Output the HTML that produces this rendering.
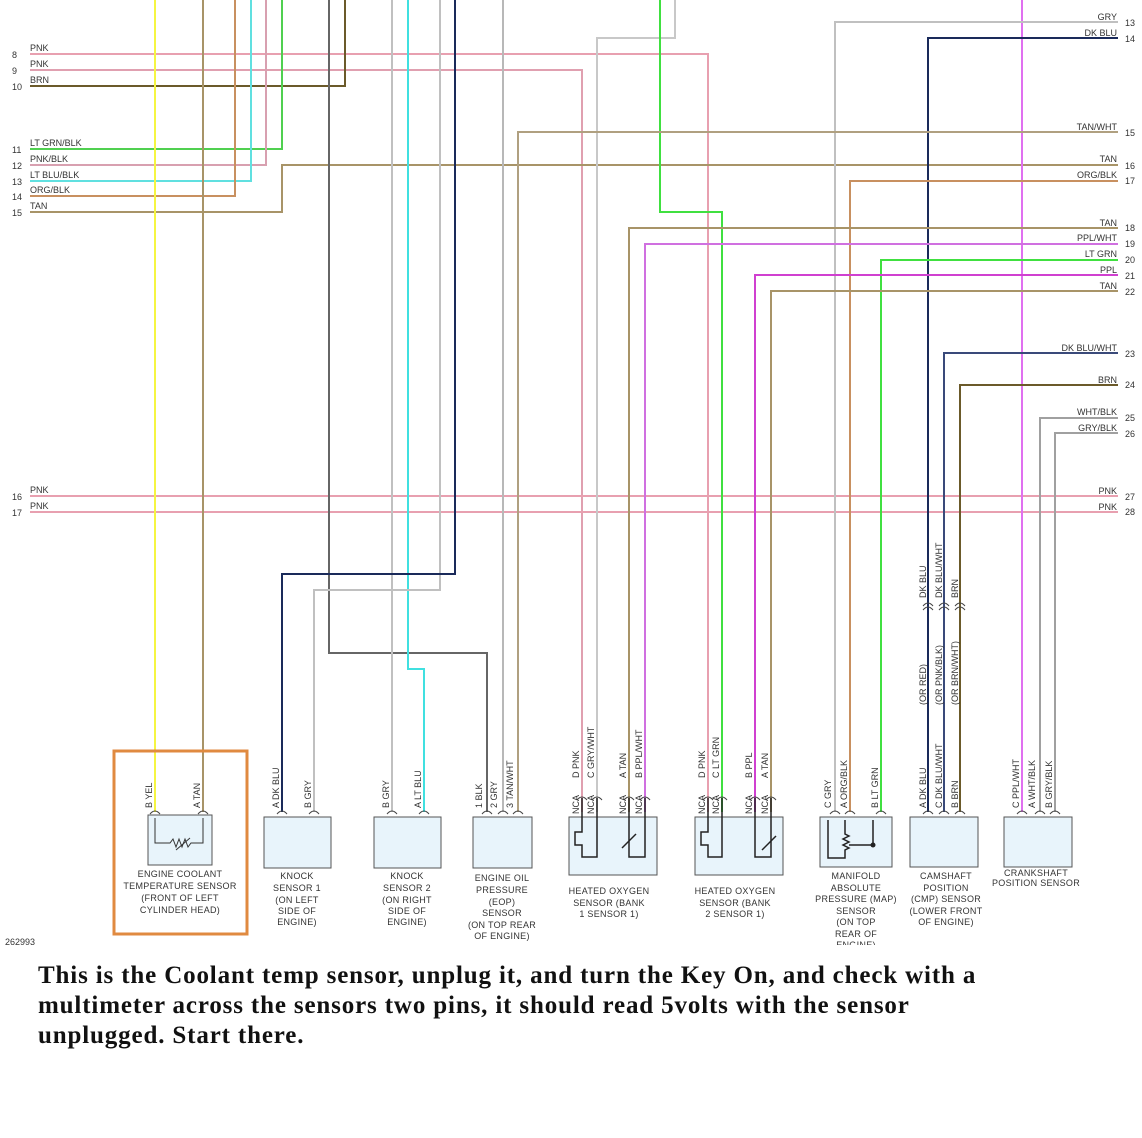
<!DOCTYPE html>
<html><head><meta charset="utf-8"><style>
body{margin:0;background:#fff;width:1142px;height:1138px;overflow:hidden}
svg{position:absolute;left:0;top:0}
.t{font-family:"Liberation Sans",sans-serif;font-size:9px;fill:#333;white-space:pre}
.c{font-family:"Liberation Sans",sans-serif;font-size:9px;fill:#333;text-anchor:middle;letter-spacing:.3px}
.r{text-anchor:end}
.w{fill:none;stroke-width:2}
.bx{fill:#e8f4fb;stroke:#555;stroke-width:1}
p.msg{position:absolute;left:38px;top:961px;margin:0;width:990px;font-family:"Liberation Serif",serif;font-weight:bold;font-size:25px;letter-spacing:0.85px;line-height:30px;color:#111}
</style></head><body>
<svg width="1142" height="945" viewBox="0 0 1142 945">
<g class="w">
<path d="M30 54H708V812" stroke="#e8a0b0"/>
<path d="M30 70H582V812" stroke="#e0a0b0"/>
<path d="M30 86H345V0" stroke="#6b5a2a"/>
<path d="M30 149H282V0" stroke="#50d050"/>
<path d="M30 165H266V0" stroke="#d8a0b0"/>
<path d="M30 181H251V0" stroke="#60e0e0"/>
<path d="M30 196H235V0" stroke="#c89060"/>
<path d="M30 212H282V165H1118" stroke="#a89468"/>
<path d="M30 496H1118" stroke="#e8a0b0"/>
<path d="M30 512H1118" stroke="#e8a0b0"/>
<path d="M155 0V812" stroke="#f5f542"/>
<path d="M203 0V812" stroke="#a89468"/>
<path d="M329 0V653H487V812" stroke="#666"/>
<path d="M392 0V812" stroke="#c0c0c0"/>
<path d="M408 0V669H424V812" stroke="#40e0e0"/>
<path d="M440 0V590H314V812" stroke="#c0c0c0"/>
<path d="M455 0V574H282V812" stroke="#1a2a5a"/>
<path d="M503 0V812" stroke="#b8b8b8"/>
<path d="M675 0V38H597V812" stroke="#c8c8c8"/>
<path d="M660 0V212H722V812" stroke="#40e040"/>
<path d="M1022 0V812" stroke="#e070f0"/>
<path d="M1118 22H835V812" stroke="#c0c0c0"/>
<path d="M1118 38H928V812" stroke="#1a2a5a"/>
<path d="M1118 132H518V812" stroke="#b0a080"/>
<path d="M1118 181H850V812" stroke="#c89060"/>
<path d="M1118 228H629V812" stroke="#a89468"/>
<path d="M1118 244H645V812" stroke="#d070e0"/>
<path d="M1118 260H881V812" stroke="#40e040"/>
<path d="M1118 275H755V812" stroke="#d040d0"/>
<path d="M1118 291H771V812" stroke="#a89468"/>
<path d="M1118 353H944V812" stroke="#3a4a7a"/>
<path d="M1118 385H960V812" stroke="#6b5a2a"/>
<path d="M1118 418H1040V812" stroke="#a0a0a0"/>
<path d="M1118 433H1055V812" stroke="#a0a0a0"/>
</g>
<g class="t">
<text x="12" y="58">8</text><text x="12" y="74">9</text><text x="12" y="90">10</text>
<text x="12" y="153">11</text><text x="12" y="169">12</text><text x="12" y="185">13</text><text x="12" y="200">14</text><text x="12" y="216">15</text>
<text x="12" y="500">16</text><text x="12" y="516">17</text>
<text x="30" y="51">PNK</text><text x="30" y="67">PNK</text><text x="30" y="83">BRN</text>
<text x="30" y="146">LT GRN/BLK</text><text x="30" y="162">PNK/BLK</text><text x="30" y="178">LT BLU/BLK</text><text x="30" y="193">ORG/BLK</text><text x="30" y="209">TAN</text>
<text x="30" y="493">PNK</text><text x="30" y="509">PNK</text>
</g>
<g class="t r">
<text x="1117" y="20">GRY</text><text x="1117" y="36">DK BLU</text><text x="1117" y="130">TAN/WHT</text><text x="1117" y="162">TAN</text><text x="1117" y="178">ORG/BLK</text>
<text x="1117" y="226">TAN</text><text x="1117" y="241">PPL/WHT</text><text x="1117" y="257">LT GRN</text><text x="1117" y="273">PPL</text><text x="1117" y="289">TAN</text>
<text x="1117" y="351">DK BLU/WHT</text><text x="1117" y="383">BRN</text><text x="1117" y="415">WHT/BLK</text><text x="1117" y="431">GRY/BLK</text>
<text x="1117" y="494">PNK</text><text x="1117" y="510">PNK</text>
</g>
<g class="t">
<text x="1125" y="26">13</text><text x="1125" y="42">14</text><text x="1125" y="136">15</text><text x="1125" y="169">16</text><text x="1125" y="184">17</text>
<text x="1125" y="231">18</text><text x="1125" y="247">19</text><text x="1125" y="263">20</text><text x="1125" y="279">21</text><text x="1125" y="295">22</text>
<text x="1125" y="357">23</text><text x="1125" y="388">24</text><text x="1125" y="421">25</text><text x="1125" y="437">26</text>
<text x="1125" y="500">27</text><text x="1125" y="515">28</text>
</g>
<g fill="none" stroke="#444" stroke-width="1">
<path d="M923 610q5-6 10 0M923 606q5-6 10 0M939 610q5-6 10 0M939 606q5-6 10 0M955 610q5-6 10 0M955 606q5-6 10 0"/>
</g>
<g class="t">
<text transform="translate(926,598) rotate(-90)">DK BLU</text>
<text transform="translate(942,598) rotate(-90)">DK BLU/WHT</text>
<text transform="translate(958,598) rotate(-90)">BRN</text>
<text transform="translate(926,705) rotate(-90)">(OR RED)</text>
<text transform="translate(942,705) rotate(-90)">(OR PNK/BLK)</text>
<text transform="translate(958,705) rotate(-90)">(OR BRN/WHT)</text>
</g>
<rect x="114" y="751" width="133" height="183" fill="none" stroke="#e08a40" stroke-width="3"/>
<rect class="bx" x="148" y="815" width="64" height="50"/>
<path d="M155 818V843H170l3-4 3 8 3-8 3 8 3-8 3 8 3-4H203V818" fill="none" stroke="#333"/>
<path d="M176 850l14-12" stroke="#333"/>
<rect class="bx" x="264" y="817" width="67" height="51"/>
<rect class="bx" x="374" y="817" width="67" height="51"/>
<rect class="bx" x="473" y="817" width="59" height="51"/>
<rect class="bx" x="569" y="817" width="88" height="58"/>
<rect class="bx" x="695" y="817" width="88" height="58"/>
<rect class="bx" x="820" y="817" width="72" height="50"/>
<rect class="bx" x="910" y="817" width="68" height="50"/>
<rect class="bx" x="1004" y="817" width="68" height="50"/>
<g fill="none" stroke="#222" stroke-width="1.5">
<path d="M582 798V832H575V845H582V857H597V798"/><path d="M629 798V857H645V798"/><path d="M622 848l14-14"/>
<path d="M708 798V832H701V845H708V857H722V798"/><path d="M755 798V857H771V798"/><path d="M762 850l14-14"/>
<path d="M828 820V858H845V850l4-2-6-3 6-3-6-3 6-3-4-2V820"/><path d="M849 845H873V820"/>
</g>
<circle cx="873" cy="845" r="2.5" fill="#222"/>
<g fill="none" stroke="#444" stroke-width="1">
<path d="M150 814q5-6 10 0M198 814q5-6 10 0M277 814q5-6 10 0M309 814q5-6 10 0M387 814q5-6 10 0M419 814q5-6 10 0M482 814q5-6 10 0M498 814q5-6 10 0M513 814q5-6 10 0
M577 800q5-6 10 0M592 800q5-6 10 0M624 800q5-6 10 0M640 800q5-6 10 0M703 800q5-6 10 0M717 800q5-6 10 0M750 800q5-6 10 0M766 800q5-6 10 0
M830 814q5-6 10 0M845 814q5-6 10 0M876 814q5-6 10 0M923 814q5-6 10 0M939 814q5-6 10 0M955 814q5-6 10 0M1017 814q5-6 10 0M1035 814q5-6 10 0M1050 814q5-6 10 0"/>
</g>
<g class="t">
<text transform="translate(152,808) rotate(-90)">B   YEL</text>
<text transform="translate(200,808) rotate(-90)">A   TAN</text>
<text transform="translate(279,808) rotate(-90)">A   DK BLU</text>
<text transform="translate(311,808) rotate(-90)">B   GRY</text>
<text transform="translate(389,808) rotate(-90)">B   GRY</text>
<text transform="translate(421,808) rotate(-90)">A   LT BLU</text>
<text transform="translate(482,808) rotate(-90)">1  BLK</text>
<text transform="translate(497,808) rotate(-90)">2  GRY</text>
<text transform="translate(513,808) rotate(-90)">3  TAN/WHT</text>
<text transform="translate(579,778) rotate(-90)">D   PNK</text>
<text transform="translate(594,778) rotate(-90)">C   GRY/WHT</text>
<text transform="translate(626,778) rotate(-90)">A   TAN</text>
<text transform="translate(642,778) rotate(-90)">B   PPL/WHT</text>
<text transform="translate(705,778) rotate(-90)">D   PNK</text>
<text transform="translate(719,778) rotate(-90)">C   LT GRN</text>
<text transform="translate(752,778) rotate(-90)">B   PPL</text>
<text transform="translate(768,778) rotate(-90)">A   TAN</text>
<text transform="translate(579,814) rotate(-90)">NCA</text>
<text transform="translate(594,814) rotate(-90)">NCA</text>
<text transform="translate(626,814) rotate(-90)">NCA</text>
<text transform="translate(642,814) rotate(-90)">NCA</text>
<text transform="translate(705,814) rotate(-90)">NCA</text>
<text transform="translate(719,814) rotate(-90)">NCA</text>
<text transform="translate(752,814) rotate(-90)">NCA</text>
<text transform="translate(768,814) rotate(-90)">NCA</text>
<text transform="translate(831,808) rotate(-90)">C   GRY</text>
<text transform="translate(847,808) rotate(-90)">A   ORG/BLK</text>
<text transform="translate(878,808) rotate(-90)">B   LT GRN</text>
<text transform="translate(926,808) rotate(-90)">A   DK BLU</text>
<text transform="translate(942,808) rotate(-90)">C   DK BLU/WHT</text>
<text transform="translate(958,808) rotate(-90)">B   BRN</text>
<text transform="translate(1019,808) rotate(-90)">C   PPL/WHT</text>
<text transform="translate(1035,808) rotate(-90)">A   WHT/BLK</text>
<text transform="translate(1052,808) rotate(-90)">B   GRY/BLK</text>
</g>
<g class="c">
<text x="180" y="877">ENGINE COOLANT</text><text x="180" y="889">TEMPERATURE SENSOR</text><text x="180" y="901">(FRONT OF LEFT</text><text x="180" y="913">CYLINDER HEAD)</text>
<text x="297" y="879">KNOCK</text><text x="297" y="891">SENSOR 1</text><text x="297" y="903">(ON LEFT</text><text x="297" y="914">SIDE OF</text><text x="297" y="925">ENGINE)</text>
<text x="407" y="879">KNOCK</text><text x="407" y="891">SENSOR 2</text><text x="407" y="903">(ON RIGHT</text><text x="407" y="914">SIDE OF</text><text x="407" y="925">ENGINE)</text>
<text x="502" y="881">ENGINE OIL</text><text x="502" y="893">PRESSURE</text><text x="502" y="905">(EOP)</text><text x="502" y="916">SENSOR</text><text x="502" y="928">(ON TOP REAR</text><text x="502" y="939">OF ENGINE)</text>
<text x="609" y="894">HEATED OXYGEN</text><text x="609" y="906">SENSOR (BANK</text><text x="609" y="917">1 SENSOR 1)</text>
<text x="735" y="894">HEATED OXYGEN</text><text x="735" y="906">SENSOR (BANK</text><text x="735" y="917">2 SENSOR 1)</text>
<text x="856" y="879">MANIFOLD</text><text x="856" y="891">ABSOLUTE</text><text x="856" y="902">PRESSURE (MAP)</text><text x="856" y="914">SENSOR</text><text x="856" y="925">(ON TOP</text><text x="856" y="937">REAR OF</text><text x="856" y="948">ENGINE)</text>
<text x="946" y="879">CAMSHAFT</text><text x="946" y="891">POSITION</text><text x="946" y="902">(CMP) SENSOR</text><text x="946" y="914">(LOWER FRONT</text><text x="946" y="925">OF ENGINE)</text>
<text x="1036" y="876">CRANKSHAFT</text><text x="1036" y="886">POSITION SENSOR</text>
</g>
<text class="t" x="5" y="945" font-size="8">262993</text>
</svg>
<p class="msg">This is the Coolant temp sensor, unplug it, and turn the Key On, and check with a multimeter across the sensors two pins, it should read 5volts with the sensor unplugged. Start there.</p>
</body></html>
